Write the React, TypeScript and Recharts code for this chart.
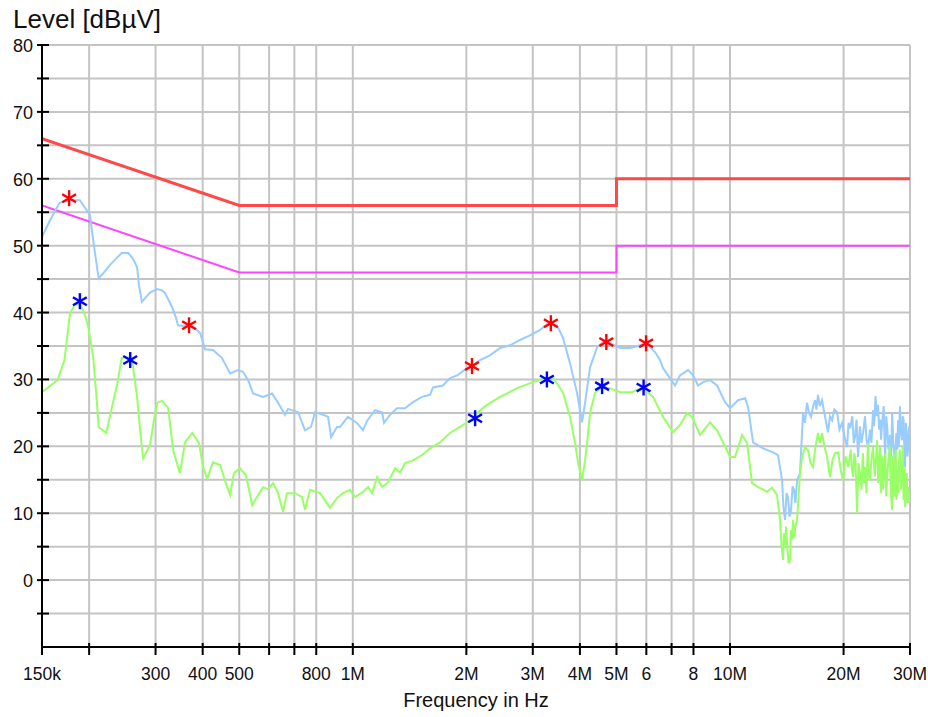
import {
  ComposedChart,
  Line,
  Scatter,
  XAxis,
  YAxis,
  CartesianGrid,
} from 'recharts'

// frequency in kHz, level in dBµV
const qpLimit: [number, number][] = [
  [150, 66], [500, 56], [5000, 56], [5000, 60], [30000, 60],
]
const avLimit: [number, number][] = [
  [150, 56], [500, 46], [5000, 46], [5000, 50], [30000, 50],
]

const peakTrace: [number, number][] = [
  [150, 51.3], [157.5, 53.8], [167, 56.4], [178, 56.8], [189, 56.8], [197, 55.3],
  [201, 54.6], [205, 50.8], [209, 47.5], [212, 45.1], [219, 46.0], [227, 47.1],
  [236, 48.1], [244, 48.9], [254, 48.9], [261, 48.1], [268, 46.8], [271, 44.1],
  [276, 41.6], [283, 42.3], [290, 43.0], [303, 43.5], [312, 43.3], [318, 42.9],
  [332, 40.8], [340, 39.2], [344, 38.1], [355, 38.0], [366, 38.1], [382, 37.7],
  [394, 36.9], [406, 34.5], [426, 34.4], [450, 33.2], [473, 30.9], [496, 31.4],
  [512, 31.1], [528, 29.9], [544, 27.9], [578, 27.4], [611, 27.9], [634, 26.5],
  [661, 24.7], [673, 25.6], [716, 25.1], [747, 22.4], [775, 22.9], [794, 25.1],
  [829, 24.8], [860, 24.4], [876, 21.4], [908, 22.9], [925, 22.9], [971, 24.4],
  [1026, 23.5], [1064, 22.4], [1091, 23.8], [1145, 25.4], [1196, 25.1], [1210, 23.5],
  [1255, 24.7], [1310, 25.7], [1375, 25.7], [1444, 26.6], [1526, 27.4], [1602, 27.7],
  [1632, 28.8], [1734, 29.1], [1810, 30.2], [1890, 30.6], [2009, 31.7], [2083, 32.1],
  [2175, 32.9], [2311, 33.6], [2457, 34.7], [2611, 35.1], [2775, 35.9], [2950, 36.6],
  [3137, 37.4], [3294, 38.4], [3479, 38.1], [3609, 36.2], [3766, 32.4], [3930, 28.0],
  [4053, 23.6], [4128, 26.5], [4255, 31.8], [4441, 34.8], [4606, 35.6], [4720, 35.6],
  [4956, 35.1], [5110, 34.7], [5433, 34.7], [5705, 35.0], [5952, 35.4], [6138, 34.8],
  [6327, 34.1], [6524, 32.9], [6643, 31.7], [6850, 30.6], [7150, 29.1], [7369, 30.6],
  [7740, 31.4], [7980, 30.6], [8228, 29.1], [8483, 29.6], [8852, 29.9], [9240, 29.1],
  [9702, 26.6], [10002, 25.7], [10502, 26.9], [10960, 27.2], [11163, 25.9], [11510, 20.6],
  [12233, 19.7], [13005, 19.1], [13407, 18.7], [13738, 14.9], [13850, 11.0], [13992, 9.0],
  [14120, 13.0], [14249, 12.4], [14380, 9.5], [14514, 10.5], [14650, 14.0], [14780, 13.5],
  [14900, 11.5], [15055, 14.9], [15330, 16.0], [15615, 25.0], [15800, 23.5], [16000, 26.5],
  [16200, 25.0], [16400, 24.4], [16600, 26.0], [16800, 26.9], [16950, 25.5], [17110, 27.7],
  [17300, 26.0], [17530, 26.9], [17850, 24.5], [18190, 22.1], [18400, 24.5], [18640, 23.9],
  [18900, 25.5], [19220, 25.1], [19500, 22.5], [19820, 23.5], [20100, 21.5], [20430, 19.9],
  [20620, 23.5], [20810, 22.7], [21100, 24.5], [21280, 20.5], [21450, 21.4], [21650, 24.0],
  [21850, 18.4], [22100, 23.0], [22300, 20.5], [22530, 22.0], [22800, 24.5], [23000, 21.0],
  [23220, 19.9], [23500, 22.5], [23700, 20.5], [23940, 25.4], [24100, 23.0], [24300, 27.5],
  [24500, 24.5], [24680, 26.2], [24850, 22.5], [25000, 24.0], [25150, 21.0], [25300, 23.5],
  [25550, 26.0], [25770, 17.5], [25950, 24.5], [26100, 23.0], [26300, 19.5], [26560, 21.7],
  [26750, 18.5], [26900, 25.0], [27100, 20.5], [27370, 17.5], [27600, 22.0], [27750, 19.5],
  [27890, 23.9], [28050, 20.0], [28200, 26.0], [28400, 22.0], [28590, 20.9], [28700, 24.5],
  [28850, 24.0], [29000, 19.0], [29120, 16.9], [29250, 23.5], [29400, 22.0], [29550, 18.5],
  [29660, 19.9], [29850, 23.0], [30000, 19.4],
]

const avgTrace: [number, number][] = [
  [150, 28.1], [165, 29.9], [172, 32.9], [178, 39.9], [183, 41.1], [189, 41.4],
  [195, 39.6], [199, 37.8], [205, 33.3], [209, 27.7], [212, 22.9], [222, 22.0],
  [230, 25.9], [237, 29.1], [244, 33.2], [254, 33.3], [260, 32.9], [268, 27.4],
  [273, 22.4], [278, 18.2], [290, 20.2], [297, 23.9], [303, 26.5], [312, 26.8],
  [324, 25.7], [334, 19.4], [348, 16.0], [359, 20.6], [375, 22.0], [391, 20.5],
  [401, 16.9], [411, 15.2], [426, 17.6], [445, 17.2], [458, 14.9], [473, 12.7],
  [484, 16.0], [502, 16.7], [521, 15.7], [541, 11.2], [561, 12.7], [578, 13.9],
  [596, 13.6], [615, 14.5], [634, 13.0], [653, 10.2], [669, 13.0], [703, 13.0],
  [734, 12.4], [747, 10.5], [770, 13.5], [819, 13.0], [870, 10.8], [908, 12.3],
  [942, 13.0], [983, 13.5], [1014, 12.4], [1064, 13.2], [1098, 13.9], [1125, 13.0],
  [1160, 15.4], [1196, 13.9], [1240, 14.6], [1294, 16.7], [1334, 16.1], [1375, 17.5],
  [1444, 17.9], [1526, 18.7], [1602, 19.7], [1703, 20.6], [1810, 22.0], [1924, 22.9],
  [2009, 23.6], [2109, 24.4], [2135, 25.0], [2269, 26.2], [2457, 27.4], [2726, 28.7],
  [3006, 29.6], [3234, 30.2], [3395, 30.2], [3479, 29.4], [3609, 28.0], [3766, 24.4],
  [3882, 20.5], [3954, 17.6], [4053, 14.9], [4128, 17.9], [4179, 20.5], [4255, 25.0],
  [4387, 28.0], [4578, 28.8], [4806, 28.7], [5110, 28.1], [5500, 28.1], [5844, 28.8],
  [6250, 27.4], [6643, 24.4], [7065, 22.1], [7369, 23.2], [7693, 25.0], [7929, 24.4],
  [8328, 21.7], [8852, 23.6], [9240, 22.4], [9524, 20.9], [10002, 18.4], [10310, 18.4],
  [10760, 21.7], [11094, 20.5], [11440, 14.5], [11870, 13.9], [12536, 13.2], [12924, 13.8],
  [13326, 12.7], [13570, 9.0], [13700, 5.0], [13823, 3.0], [13900, 7.0], [13992, 5.2],
  [14080, 8.0], [14164, 5.5], [14300, 2.5], [14420, 3.0], [14500, 7.5], [14602, 6.0],
  [14700, 9.0], [14780, 6.4], [14900, 8.0], [15055, 9.0], [15330, 16.0], [15550, 18.5],
  [15806, 19.9], [16100, 19.4], [16350, 17.5], [16600, 16.9], [16850, 20.0], [17110, 22.0],
  [17300, 20.5], [17530, 22.0], [17800, 20.0], [18080, 18.4], [18410, 15.4], [18700, 18.0],
  [18990, 19.0], [19340, 19.1], [19650, 16.5], [19940, 14.9], [20250, 18.5], [20570, 16.9],
  [20900, 19.5], [21050, 16.5], [21200, 15.4], [21350, 19.0], [21500, 18.0], [21720, 10.0],
  [21900, 17.5], [22120, 16.0], [22300, 13.5], [22500, 19.0], [22650, 14.5], [22800, 16.9],
  [23000, 13.0], [23200, 20.5], [23350, 15.5], [23510, 14.9], [23700, 18.0], [23940, 19.9],
  [24200, 15.5], [24540, 20.9], [24700, 14.5], [24800, 17.0], [24990, 19.9], [25100, 13.0],
  [25200, 15.0], [25350, 18.5], [25460, 13.5], [25650, 17.0], [25800, 19.0], [25950, 12.5],
  [26090, 15.4], [26300, 18.0], [26500, 20.0], [26700, 13.0], [26890, 10.5], [27000, 18.5],
  [27100, 16.0], [27250, 12.5], [27370, 17.5], [27500, 19.5], [27600, 12.0], [27750, 16.5],
  [27890, 13.0], [28050, 17.5], [28200, 19.5], [28400, 13.5], [28590, 16.4], [28700, 20.0],
  [28850, 12.0], [29000, 17.0], [29120, 10.9], [29250, 15.0], [29400, 16.0], [29550, 11.5],
  [29660, 13.9], [29850, 11.5], [30000, 13.0],
]

const qpMarkers: [number, number][] = [
  [177, 57.1], [368, 38.1], [2070, 32.0], [3350, 38.4], [4700, 35.6], [5990, 35.4],
]
const avMarkers: [number, number][] = [
  [189, 41.7], [257, 32.9], [2110, 24.2], [3270, 30.0], [4580, 29.0], [5900, 28.8],
]

const xTicks = [150, 200, 300, 400, 500, 600, 700, 800, 1000, 2000, 3000, 4000, 5000, 6000, 7000, 8000, 10000, 20000, 30000]
const xLabels: Record<number, string> = {
  150: '150k', 300: '300', 400: '400', 500: '500', 800: '800', 1000: '1M',
  2000: '2M', 3000: '3M', 4000: '4M', 5000: '5M', 6000: '6', 8000: '8',
  10000: '10M', 20000: '20M', 30000: '30M',
}
const yTicks = [-10, -5, 0, 5, 10, 15, 20, 25, 30, 35, 40, 45, 50, 55, 60, 65, 70, 75, 80]

const toRows = (pts: [number, number][]) => pts.map(([f, v]) => ({ f, v }))

const FONT = '"Liberation Sans", Arial, sans-serif'

const XTick = (props: any) => {
  const { x, y, payload } = props
  const label = xLabels[payload.value]
  return (
    <g>
      <line x1={x} x2={x} y1={y - 4} y2={y + 8} stroke="#000" strokeWidth={2} />
      {label && (
        <text x={x} y={y + 33} textAnchor="middle" fontSize={17.5} fontFamily={FONT} fill="#111">
          {label}
        </text>
      )}
    </g>
  )
}

const YTick = (props: any) => {
  const { x, y, payload } = props
  const v = payload.value
  if (v === -10) return null
  return (
    <g>
      <line x1={x - 5} x2={x + 7} y1={y} y2={y} stroke="#000" strokeWidth={2} />
      {v % 10 === 0 && (
        <text x={x - 9} y={y + 7} textAnchor="end" fontSize={18} fontFamily={FONT} fill="#111">
          {v}
        </text>
      )}
    </g>
  )
}

const Star = (color: string) => (props: any) => {
  const { cx, cy } = props
  const r = 8
  const dx = r * Math.cos(Math.PI / 6)
  const dy = r * Math.sin(Math.PI / 6)
  return (
    <g stroke={color} strokeWidth={2.4}>
      <line x1={cx} y1={cy - r} x2={cx} y2={cy + r} />
      <line x1={cx - dx} y1={cy - dy} x2={cx + dx} y2={cy + dy} />
      <line x1={cx - dx} y1={cy + dy} x2={cx + dx} y2={cy - dy} />
    </g>
  )
}

export default function App() {
  return (
    <div style={{ position: 'absolute', left: 0, top: 0, width: 928, height: 717, background: '#fff', fontFamily: FONT }}>
      <div style={{ position: 'absolute', left: 13, top: 6, fontSize: 26, lineHeight: '26px', color: '#111' }}>
        Level [dBµV]
      </div>
      <div style={{ position: 'absolute', left: 42, width: 868, top: 690, fontSize: 20, lineHeight: '20px', textAlign: 'center', color: '#111' }}>
        Frequency in Hz
      </div>
      <ComposedChart width={928} height={717} margin={{ top: 45, right: 18, bottom: 0, left: 0 }}>
        <CartesianGrid stroke="#c4c4c4" strokeWidth={2} verticalValues={xTicks} horizontalValues={yTicks} />
        <XAxis
          type="number"
          dataKey="f"
          scale="log"
          domain={[150, 30000]}
          allowDataOverflow
          ticks={xTicks}
          interval={0}
          height={70}
          tickSize={0}
          tickMargin={0}
          tickLine={false}
          tick={<XTick />}
          axisLine={{ stroke: '#000', strokeWidth: 2 }}
        />
        <YAxis
          type="number"
          dataKey="v"
          domain={[-10, 80]}
          allowDataOverflow
          ticks={yTicks}
          interval={0}
          width={42}
          tickSize={0}
          tickMargin={0}
          tickLine={false}
          tick={<YTick />}
          axisLine={{ stroke: '#000', strokeWidth: 2 }}
        />
        <Line data={toRows(qpLimit)} dataKey="v" stroke="#ff4848" strokeWidth={3} dot={false} isAnimationActive={false} />
        <Line data={toRows(avLimit)} dataKey="v" stroke="#ff44ff" strokeWidth={2} dot={false} isAnimationActive={false} />
        <Line data={toRows(peakTrace)} dataKey="v" stroke="#99ccff" strokeWidth={2} dot={false} isAnimationActive={false} />
        <Line data={toRows(avgTrace)} dataKey="v" stroke="#99ff66" strokeWidth={2} dot={false} isAnimationActive={false} />
        <Scatter data={toRows(qpMarkers)} dataKey="v" shape={Star('#ff0000')} isAnimationActive={false} />
        <Scatter data={toRows(avMarkers)} dataKey="v" shape={Star('#0000ff')} isAnimationActive={false} />
      </ComposedChart>
    </div>
  )
}
